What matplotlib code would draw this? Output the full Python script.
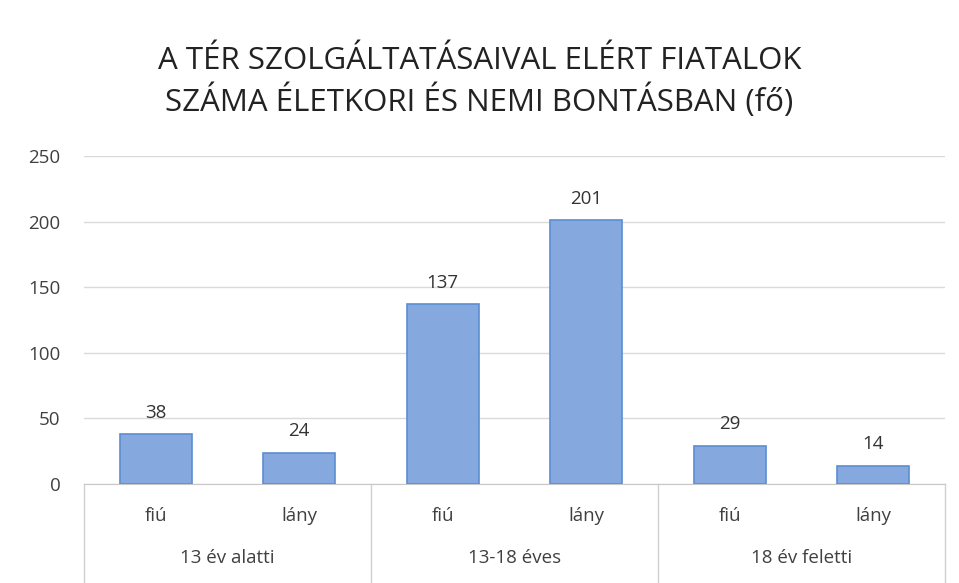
import matplotlib
matplotlib.use("Agg")
import matplotlib.pyplot as plt
import matplotlib.transforms as mtransforms

title = "A TÉR SZOLGÁLTATÁSAIVAL ELÉRT FIATALOK\nSZÁMA ÉLETKORI ÉS NEMI BONTÁSBAN (fő)"
groups = ["13 év alatti", "13-18 éves", "18 év feletti"]
sexes = ["fiú", "lány"]
values = [38, 24, 137, 201, 29, 14]

plt.rcParams['font.family'] = ['Open Sans', 'DejaVu Sans']

fig = plt.figure(figsize=(9.59, 5.83), dpi=100)
W, H = 959, 583
ax = fig.add_axes([84 / W, 1 - 484 / H, (945 - 84) / W, (484 - 156) / H])

x = list(range(len(values)))
ax.bar(x, values, width=0.5, color='#85A9DE', edgecolor='#5C8DD3', linewidth=1.2, zorder=3)
for xi, v in zip(x, values):
    ax.annotate(str(v), (xi, v), xytext=(0, 9), textcoords='offset points',
                ha='center', va='bottom', fontsize=13.5, color='#333333')

ax.set_xlim(-0.5, len(values) - 0.5)
ax.set_ylim(0, 250)
ax.set_yticks(range(0, 251, 50))
ax.tick_params(axis='y', length=0, labelsize=13.5, labelcolor='#404040', pad=17)
ax.set_xticks([])
ax.yaxis.grid(True, color='#DADADA', linewidth=1)
ax.set_axisbelow(True)
for s in ['top', 'right', 'left']:
    ax.spines[s].set_visible(False)
ax.spines['bottom'].set_color('#C8C8C8')

# two-level category axis
trans = mtransforms.blended_transform_factory(ax.transData, ax.transAxes)
depth = (583 - 484) / (484 - 156)
for i, xi in enumerate(x):
    ax.text(xi, -32 / 328, sexes[i % 2], transform=trans, ha='center', va='center',
            fontsize=13.5, color='#404040')
for g, name in enumerate(groups):
    ax.text(2 * g + 0.5, -74 / 328, name, transform=trans, ha='center', va='center',
            fontsize=13.5, color='#404040')
for b in [-0.5, 1.5, 3.5, 5.5]:
    ax.plot([b, b], [0, -depth], transform=trans, color='#D0D0D0', lw=1, clip_on=False)

fig.text(0.5, 1 - 82 / H, title, ha='center', va='center', fontsize=22.5,
         color='#222222', linespacing=1.3)

fig.savefig("out.png", dpi=100)
